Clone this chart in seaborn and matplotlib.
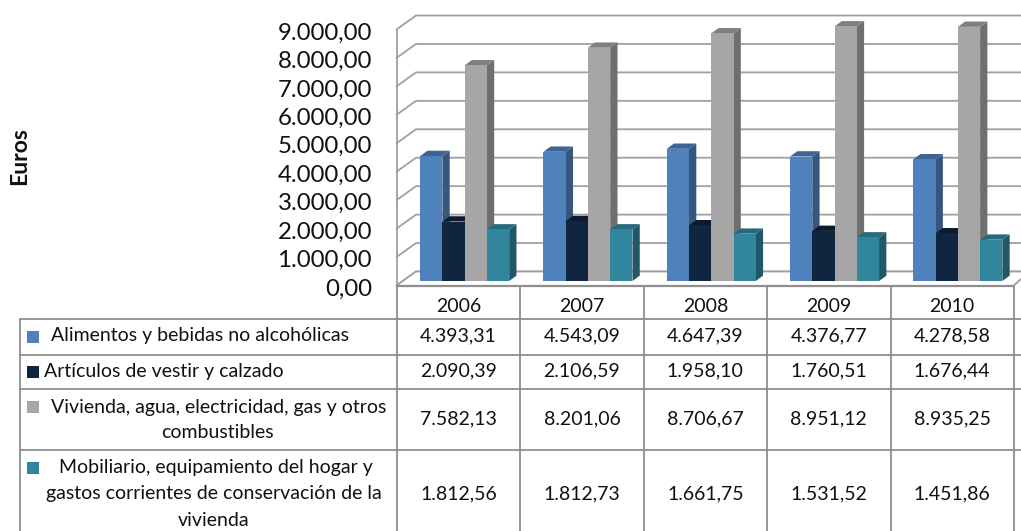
import matplotlib
matplotlib.use('Agg')
import matplotlib.pyplot as plt
import matplotlib.transforms as mtransforms
from matplotlib.patches import Polygon, Rectangle
import pandas as pd
import seaborn as sns

# data
years = ['2006', '2007', '2008', '2009', '2010']
alimentos = [4393.31, 4543.09, 4647.39, 4376.77, 4278.58]
vestir = [2090.39, 2106.59, 1958.10, 1760.51, 1676.44]
vivienda = [7582.13, 8201.06, 8706.67, 8951.12, 8935.25]
mobiliario = [1812.56, 1812.73, 1661.75, 1531.52, 1451.86]
series_names = ['Alimentos', 'Vestir', 'Vivienda', 'Mobiliario']
series_values = [alimentos, vestir, vivienda, mobiliario]
y_ticks = [0, 1000, 2000, 3000, 4000, 5000, 6000, 7000, 8000, 9000]

# colours: front, side, top
front_colors = ['#4f81bd', '#10253f', '#a6a6a6', '#31859c']
side_colors = ['#34567f', '#0c1c30', '#6f6f6f', '#205867']
top_colors = ['#3b6597', '#0b1a2d', '#7f7f7f', '#276a7d']
line_color = '#a0a0a0'
table_color = '#8e8e8e'

W, H = 1021, 531
FONT = ['Lato', 'DejaVu Sans']


def es_format(value):
    # 4393.31 -> 4.393,31
    return f'{value:,.2f}'.replace(',', 'X').replace('.', ',').replace('X', '.')


sns.set_theme(style='white')
plt.rcParams['font.family'] = FONT

fig = plt.figure(figsize=(W / 100, H / 100), dpi=100, facecolor='white')

# axes box in pixels (front plane of the bars)
left, right, top, bottom = 403.0, 1019.5, 25.0, 281.0
ax = fig.add_axes([left / W, 1 - bottom / H, (right - left) / W, (bottom - top) / H])
ax.patch.set_visible(False)

df = pd.DataFrame({
    'year': [y for _ in series_names for y in years],
    'series': [n for n in series_names for _ in years],
    'value': [v for vals in series_values for v in vals],
})
sns.barplot(data=df, x='year', y='value', hue='series', hue_order=series_names,
            palette=front_colors, width=0.722, gap=0, saturation=1,
            legend=False, ax=ax, linewidth=0)

ax.set_xlim(-0.5, 4.5)
ax.set_ylim(0, 9000)
px_x = (right - left) / 5        # pixels per category
px_y = (bottom - top) / 9000     # pixels per euro
sns.despine(ax=ax, left=True, bottom=True)
ax.set_xlabel('')
ax.set_ylabel('')
ax.xaxis.set_visible(False)

# y labels sit on the front edge of the wall, a bit below the bar plane
ax.set_yticks(y_ticks)
ax.set_yticklabels([es_format(t) for t in y_ticks], fontsize=17.3, color='#111111')
ax.tick_params(axis='y', length=0, pad=22.3)
shift = mtransforms.ScaledTranslation(0, -6 / 100, fig.dpi_scale_trans)
for label in ax.get_yticklabels():
    label.set_transform(label.get_transform() + shift)


def dx(px):
    return px / px_x


def dy(px):
    return px / px_y


# walls and gridlines
x0 = -0.5
x_front = x0 + dx(396.5 - left)
x_back = x0 + dx(416 - left)
x_end = x0 + dx(1024 - left)
up_back = dy(9.5)
down_front = dy(4.5)
for t in y_ticks:
    ax.plot([x_front, x_back, x_end], [t - down_front, t + up_back, t + up_back],
            color=line_color, lw=1.3, clip_on=False, zorder=1, solid_joinstyle='miter')
ax.plot([x_front, x_front], [0 - down_front, 9000 - down_front],
        color=line_color, lw=1.3, clip_on=False, zorder=1)

# white floor
ax.add_patch(Polygon([(x_front, -down_front), (x_back, up_back), (x_end, up_back), (x_end, -down_front)],
                     closed=True, fc='white', ec='none', clip_on=False, zorder=1.5))
ax.plot([x_front, x_back, x_end], [-down_front, up_back, up_back],
        color=line_color, lw=1.3, clip_on=False, zorder=1.6)

# 3d look: side and top faces from the drawn bars
depth_x = dx(7.3)
depth_y = dy(5.3)
for i, container in enumerate(ax.containers):
    z = 10 + i
    for bar in container:
        bar.set_zorder(z + 0.5)
        x1 = bar.get_x() + bar.get_width()
        x2 = bar.get_x()
        h = bar.get_height()
        ax.add_patch(Polygon([(x1, 0), (x1 + depth_x, depth_y), (x1 + depth_x, h + depth_y), (x1, h)],
                             closed=True, fc=side_colors[i], ec='none', clip_on=False, zorder=z))
        ax.add_patch(Polygon([(x2, h), (x2 + depth_x, h + depth_y), (x1 + depth_x, h + depth_y), (x1, h)],
                             closed=True, fc=top_colors[i], ec='none', clip_on=False, zorder=z))

# table overlay in pixel coordinates
tb = fig.add_axes([0, 0, 1, 1], zorder=5)
tb.set_xlim(0, W)
tb.set_ylim(H, 0)
tb.axis('off')
tb.patch.set_visible(False)

col_x = [397, 520.3, 643.7, 767, 890.5, 1013.8]
row_y = [319.3, 354.7, 389.3, 450.3]
header_top = 285.5
table_left = 19.5
lw = 1.3
tb.plot([col_x[0], col_x[-1]], [header_top, header_top], color=table_color, lw=1.6)
tb.plot([col_x[-1], 1021], [header_top, 279], color=line_color, lw=1.3)
for y in row_y:
    tb.plot([table_left, W], [y, y], color=table_color, lw=lw)
tb.plot([table_left, table_left], [row_y[0], H], color=table_color, lw=lw)
for x in col_x:
    tb.plot([x, x], [header_top, H], color=table_color, lw=lw)

text_kw = dict(ha='center', va='center', fontsize=14, color='#111111')
for j, year in enumerate(years):
    xc = (col_x[j] + col_x[j + 1]) / 2
    tb.text(xc, 307, year, **text_kw)

value_rows = [336, 371, 419, 494]
for vals, yc in zip(series_values, value_rows):
    for j, v in enumerate(vals):
        xc = (col_x[j] + col_x[j + 1]) / 2
        tb.text(xc, yc, es_format(v), **text_kw)

legend_lines = [
    [('Alimentos y bebidas no alcohólicas', 199.5, 336)],
    [('Artículos de vestir y calzado', 164, 371)],
    [('Vivienda, agua, electricidad, gas y otros', 219, 407), ('combustibles', 217, 432)],
    [('Mobiliario, equipamiento del hogar y', 216, 468), ('gastos corrientes de conservación de la', 214, 494),
     ('vivienda', 214, 520)],
]
swatch_y = [336.7, 371.7, 406.7, 468]
for color, sy, lines in zip(front_colors, swatch_y, legend_lines):
    tb.add_patch(Rectangle((27, sy - 6), 12, 12, fc=color, ec='none'))
    for txt, xc, yc in lines:
        tb.text(xc, yc, txt, **text_kw)

tb.text(20, 156, 'Euros', rotation=90, ha='center', va='center', fontsize=16.5,
        fontweight='bold', color='#111111')

fig.savefig('out.png', dpi=100)
